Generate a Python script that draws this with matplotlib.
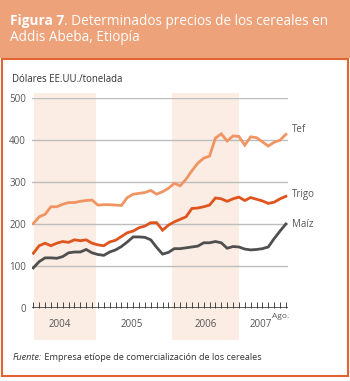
import matplotlib
matplotlib.use("Agg")
import matplotlib.pyplot as plt
from matplotlib.patches import Rectangle
import numpy as np

# ---- data (US$/tonne, monthly Jan 2004 - Aug 2007) ----
tef = [201, 217, 223, 241, 241, 247, 251, 251, 254, 256, 257, 245,
       246, 246, 245, 244, 263, 271, 273, 275, 280, 271, 277, 285,
       297, 291, 307, 327, 345, 357, 362, 405, 415, 398, 410, 409,
       388, 408, 406, 396, 386, 395, 400, 414]
trigo = [130, 148, 154, 148, 154, 158, 156, 162, 160, 162, 154, 150,
         148, 157, 161, 170, 179, 183, 191, 195, 203, 203, 185, 197,
         205, 211, 217, 237, 238, 241, 245, 262, 260, 254, 260, 264,
         256, 263, 259, 255, 249, 252, 260, 266]
maiz = [95, 110, 119, 119, 118, 122, 131, 133, 133, 139, 131, 127,
        125, 133, 138, 146, 157, 169, 169, 168, 162, 144, 128, 132,
        141, 141, 143, 145, 147, 155, 155, 158, 155, 142, 146, 145,
        140, 138, 139, 141, 145, 165, 183, 200]
series_names = ["Tef", "Trigo", "Maíz"]
years = ["2004", "2005", "2006", "2007"]
yticks = [0, 100, 200, 300, 400, 500]

W, H = 350, 381
fig = plt.figure(figsize=(W / 100, H / 100), dpi=100)
FONT = "Open Sans"

def fx(px):
    return px / W

def fy(py):
    return 1 - py / H

# banner
fig.patches.append(Rectangle((0, fy(58)), 1, 58 / H, transform=fig.transFigure,
                             facecolor="#EDA27A", edgecolor="none", zorder=0))
# outer box
fig.patches.append(Rectangle((fx(1.5), fy(375.5)), fx(346), (375.5 - 58.5) / H,
                             transform=fig.transFigure, facecolor="none",
                             edgecolor="#E2652F", linewidth=1.5, zorder=1))

# title with bold part
TS = 9.8
t1 = fig.text(fx(10), fy(25), "Figura 7", fontsize=TS, fontweight="bold",
              color="white", family=FONT, va="baseline", ha="left")
fig.canvas.draw()
r = fig.canvas.get_renderer()
bb = t1.get_window_extent(r)
fig.text(bb.x1 / W, fy(25), ". Determinados precios de los cereales en", fontsize=TS,
         color="white", family=FONT, va="baseline", ha="left")
fig.text(fx(10), fy(41), "Addis Abeba, Etiopía", fontsize=TS,
         color="white", family=FONT, va="baseline", ha="left")

# axes
x0, x1 = 32.3, 288.3
yb, yt = 307.7, 98.3
ax = fig.add_axes([fx(x0), fy(yb), (x1 - x0) / W, (yb - yt) / H])
n = len(tef)
x = np.arange(n)
step = (285.9 - 33.3) / 43
ax.set_xlim(-(33.3 - x0) / step, 43 + (x1 - 285.9) / step)
ax.set_ylim(0, 500)
for s in ax.spines.values():
    s.set_visible(False)
ax.patch.set_alpha(0)

# shaded years
ymin = (yb - 340) / (yb - yt)
ymax = (yb - 92.5) / (yb - yt)
for a, b in [(0.1, 10.75), (23.65, 35.0)]:
    ax.axvspan(a, b, ymin=ymin, ymax=ymax, color="#FBEDE3", lw=0, clip_on=False, zorder=0)

for v in yticks[1:]:
    ax.axhline(v, color="#BDBDBD", lw=1.0, zorder=1)
ax.axhline(0, color="#333333", lw=1.1, zorder=3)

ax.plot(x, tef, color="#EF9462", lw=2.0, zorder=4, solid_joinstyle="miter")
ax.plot(x, trigo, color="#E0541E", lw=2.0, zorder=4, solid_joinstyle="miter")
ax.plot(x, maiz, color="#4F4F4F", lw=2.0, zorder=4, solid_joinstyle="miter")

# month ticks pointing up
ax.set_xticks(x)
ax.set_xticklabels([])
ax.tick_params(axis="x", direction="in", length=4, width=0.7, color="#444444", pad=0)
ax.set_yticks(yticks)
ax.set_yticklabels([str(v) for v in yticks], fontsize=7, color="#555555", family=FONT)
ax.tick_params(axis="y", length=0, pad=4.5)

# year labels
for lab, xp in zip(years, [4.5, 16.8, 29.4, 38.7]):
    ax.text(xp, -40, lab, fontsize=7, color="#555555", family=FONT,
            ha="center", va="center")
ax.text(42.1, -22, "Ago.", fontsize=6, color="#555555", family=FONT,
        ha="center", va="center")

# series labels
for name, yv in zip(series_names, [(307.7 - 129.3) / 0.4188, (307.7 - 194) / 0.4188, (307.7 - 224) / 0.4188]):
    ax.text(44.0, yv, name, fontsize=7, color="#555555", family=FONT,
            ha="left", va="center", clip_on=False)

fig.text(fx(11.5), fy(82.5), "Dólares EE.UU./tonelada", fontsize=6.9, color="#333333",
         family=FONT, va="baseline", ha="left")

t2 = fig.text(fx(13), fy(360), "Fuente:", fontsize=6.6, style="italic", color="#333333",
              family=FONT, va="baseline", ha="left")
fig.canvas.draw()
bb2 = t2.get_window_extent(fig.canvas.get_renderer())
fig.text(bb2.x1 / W, fy(360), " Empresa etíope de comercialización de los cereales",
         fontsize=6.6, color="#333333", family=FONT, va="baseline", ha="left")

fig.savefig("out.png", dpi=100, facecolor="white")
